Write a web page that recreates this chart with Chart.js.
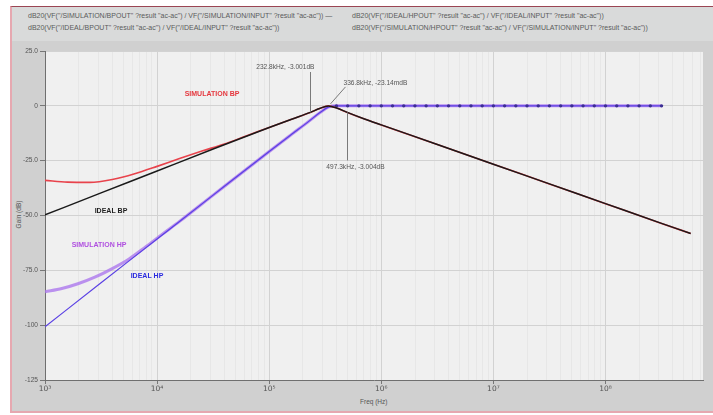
<!DOCTYPE html>
<html>
<head>
<meta charset="utf-8">
<script src="https://cdn.jsdelivr.net/npm/chart.js@4.4.1/dist/chart.umd.min.js"></script>
<style>
  html, body { margin: 0; padding: 0; background: #ffffff; }
  body { width: 713px; height: 415px; position: relative; overflow: hidden; font-family: "Liberation Sans", Arial, sans-serif; }
  #frame { position: absolute; left: 10px; top: 6px; width: 703px; height: 407px; box-sizing: border-box;
           background: #d0d0d0; border-top: 1px solid #9b4553; border-left: 2px solid #e6a8b0; border-bottom: 2px solid #e6a8b0; }
  #legendBand { position: absolute; left: 12px; top: 7px; width: 701px; height: 34px; background: #d9dada; }
  .leg { position: absolute; font-size: 7px; color: #5a5a5a; white-space: nowrap; }
  .axt { position: absolute; font-size: 6.5px; color: #555; white-space: nowrap; }
  #wrap { position: absolute; left: 0; top: 0; width: 713px; height: 415px; }
</style>
</head>
<body>
<div id="frame"></div>
<div id="legendBand"></div>
<div class="leg" style="left:28px;top:12px">dB20(VF("/SIMULATION/BPOUT" ?result "ac-ac") / VF("/SIMULATION/INPUT" ?result "ac-ac")) &#8212;</div>
<div class="leg" style="left:28px;top:24px">dB20(VF("/IDEAL/BPOUT" ?result "ac-ac") / VF("/IDEAL/INPUT" ?result "ac-ac"))</div>
<div class="leg" style="left:352px;top:12px">dB20(VF("/IDEAL/HPOUT" ?result "ac-ac") / VF("/IDEAL/INPUT" ?result "ac-ac"))</div>
<div class="leg" style="left:352px;top:24px">dB20(VF("/SIMULATION/HPOUT" ?result "ac-ac") / VF("/SIMULATION/INPUT" ?result "ac-ac"))</div>
<div class="axt" style="left:-2px;top:211px;transform:rotate(-90deg);transform-origin:50% 50%;width:40px;text-align:center">Gain (dB)</div>
<div class="axt" style="left:360px;top:398px">Freq (Hz)</div>
<div id="wrap"><canvas id="c" width="713" height="415"></canvas></div>
<script>
// Ideal band-pass response
const freqIdealBP = [1e3, 3.162e3, 1e4, 3.162e4, 1e5, 1.585e5, 2.328e5, 2.818e5, 3.368e5, 4.0e5, 4.973e5, 7.079e5, 1e6, 3.162e6, 1e7, 3.162e7, 1e8, 3.162e8, 5.754e8];
const gainIdealBP = [-49.7, -39.7, -29.7, -19.7, -9.9, -6.1, -3.001, -1.2, -0.02314, -1.0, -3.004, -6.0, -8.7, -17.6, -26.6, -35.6, -44.6, -53.6, -58.2];

// Simulated band-pass response
const freqSimBP = [1e3, 1.585e3, 2.512e3, 3.981e3, 6.310e3, 1e4, 1.585e4, 2.512e4, 3.981e4, 6.310e4, 1e5, 1.585e5, 2.328e5, 2.818e5, 3.368e5, 4.0e5, 4.973e5, 7.079e5, 1e6, 3.162e6, 1e7, 3.162e7, 1e8, 3.162e8, 5.754e8];
const gainSimBP = [-34.0, -34.8, -34.9, -33.6, -31.0, -27.6, -24.0, -20.6, -17.4, -13.6, -9.9, -6.1, -3.0, -1.2, -0.03, -1.0, -3.0, -6.0, -8.7, -17.6, -26.6, -35.6, -44.6, -53.6, -58.2];

// Ideal high-pass response
const freqIdealHP = [1e3, 3.162e3, 1e4, 3.162e4, 1e5, 1.585e5, 2.239e5, 2.818e5, 3.368e5, 3.981e5,
  5.012e5, 6.310e5, 7.943e5, 1e6, 1.259e6, 1.585e6, 1.995e6, 2.512e6, 3.162e6, 3.981e6,
  5.012e6, 6.310e6, 7.943e6, 1e7, 1.259e7, 1.585e7, 1.995e7, 2.512e7, 3.162e7, 3.981e7,
  5.012e7, 6.310e7, 7.943e7, 1e8, 1.259e8, 1.585e8, 1.995e8, 2.512e8, 3.162e8];
const gainIdealHP = [-100.7, -80.7, -60.7, -40.7, -20.8, -13.0, -7.2, -3.2, -0.6, 0,
  0, 0, 0, 0, 0, 0, 0, 0, 0, 0,
  0, 0, 0, 0, 0, 0, 0, 0, 0, 0,
  0, 0, 0, 0, 0, 0, 0, 0, 0];

// Simulated high-pass response
const freqSimHP = [1e3, 1.413e3, 1.995e3, 2.818e3, 3.981e3, 5.623e3, 7.943e3, 1.122e4, 1.585e4, 3.162e4, 1e5, 1.585e5, 2.239e5, 2.818e5, 3.368e5, 3.981e5, 1e6, 1e7, 1e8, 3.162e8];
const gainSimHP = [-84.8, -83.3, -81.0, -78.0, -74.2, -69.8, -64.2, -58.4, -52.7, -40.7, -20.8, -13.0, -7.2, -3.2, -0.6, 0, 0, 0, 0, 0];

// Cursor read-outs on the ideal band-pass curve
const markerFreq = [2.328e5, 3.368e5, 4.973e5];
const markerGain = [-3.001, -0.02314, -3.004];
const markerText = ['232.8kHz, -3.001dB', '336.8kHz, -23.14mdB', '497.3kHz, -3.004dB'];

// Axis ticks
const yTicks = [25, 0, -25, -50, -75, -100, -125];
const yTickLabels = ['25.0', '0', '-25.0', '-50.0', '-75.0', '-100', '-125'];
const xDecades = [1e3, 1e4, 1e5, 1e6, 1e7, 1e8];
const xDecadeLabels = ['10\u00B3', '10\u2074', '10\u2075', '10\u2076', '10\u2077', '10\u2078'];

function toPoints(f, g) { return f.map((v, i) => ({ x: v, y: g[i] })); }

const plotBackground = {
  id: 'plotBackground',
  beforeDraw(chart) {
    const { ctx, chartArea: a } = chart;
    ctx.save();
    ctx.fillStyle = '#f0f0f0';
    ctx.fillRect(a.left, a.top, a.right - a.left, a.bottom - a.top);
    ctx.restore();
  }
};

const cursorLabels = {
  id: 'cursorLabels',
  afterDatasetsDraw(chart) {
    const ctx = chart.ctx, xs = chart.scales.x, ys = chart.scales.y;
    ctx.save();
    ctx.strokeStyle = '#7a7a7a';
    ctx.lineWidth = 1;
    ctx.fillStyle = '#555';
    ctx.font = '6.6px "Liberation Sans", Arial, sans-serif';
    ctx.textBaseline = 'middle';
    markerFreq.forEach((f, i) => {
      const px = Math.round(xs.getPixelForValue(f)) + 0.5;
      const py = ys.getPixelForValue(markerGain[i]);
      ctx.beginPath();
      if (i === 0) {
        ctx.moveTo(px, py); ctx.lineTo(px, 72);
        ctx.stroke();
        ctx.textAlign = 'right';
        ctx.fillText(markerText[i], px + 4, 67);
      } else if (i === 1) {
        ctx.moveTo(px + 2, py - 2); ctx.lineTo(px + 17, py - 19);
        ctx.stroke();
        ctx.textAlign = 'left';
        ctx.fillText(markerText[i], px + 15, py - 23);
      } else {
        ctx.moveTo(px, py); ctx.lineTo(px, py + 48);
        ctx.stroke();
        ctx.textAlign = 'center';
        ctx.fillText(markerText[i], px + 8, py + 55);
      }
    });
    ctx.restore();
  }
};

const curveNames = {
  id: 'curveNames',
  afterDatasetsDraw(chart) {
    const ctx = chart.ctx;
    ctx.save();
    ctx.font = 'bold 7px "Liberation Sans", Arial, sans-serif';
    ctx.textAlign = 'center';
    ctx.textBaseline = 'middle';
    const names = [
      ['SIMULATION BP', '#e5383f', 212, 94],
      ['IDEAL BP', '#1e1e1e', 111, 211],
      ['SIMULATION HP', '#b050e0', 99, 245],
      ['IDEAL HP', '#2b2be0', 147, 276]
    ];
    names.forEach(([t, c, x, y]) => { ctx.fillStyle = c; ctx.fillText(t, x, y); });
    ctx.restore();
  }
};

const ctx = document.getElementById('c').getContext('2d');
new Chart(ctx, {
  type: 'line',
  data: {
    datasets: [
      { label: 'IDEAL BP', data: toPoints(freqIdealBP, gainIdealBP), borderColor: '#1a1a1a', borderWidth: 1.5, pointRadius: 0, order: 1 },
      { label: 'SIMULATION BP', data: toPoints(freqSimBP, gainSimBP), borderColor: '#e8434c', borderWidth: 1.6, pointRadius: 0, order: 2 },
      { label: 'IDEAL HP', data: toPoints(freqIdealHP, gainIdealHP), borderColor: '#5a40e4', borderWidth: 1.2,
        pointRadius: c => (c.raw && c.raw.y === 0 ? 1.7 : 0), pointBackgroundColor: '#3b2e92', pointBorderWidth: 0, order: 3 },
      { label: 'SIMULATION HP', data: toPoints(freqSimHP, gainSimHP), borderColor: 'rgba(172,120,238,0.8)', borderWidth: 3, pointRadius: 0, order: 4 }
    ]
  },
  options: {
    responsive: false,
    animation: false,
    devicePixelRatio: 1,
    layout: { padding: { top: 51, right: 10, left: 0, bottom: 0 } },
    plugins: { legend: { display: false }, tooltip: { enabled: false } },
    elements: { line: { tension: 0.3, cubicInterpolationMode: 'monotone' } },
    scales: {
      x: {
        type: 'logarithmic',
        min: 1e3,
        max: 7.41e8,
        afterFit(s) { s.height = 35; },
        afterBuildTicks(s) {
          const t = [];
          xDecades.forEach(d => {
            for (let m = 1; m <= 9; m++) {
              const v = d * m;
              if (v <= 7.41e8) t.push({ value: v, major: m === 1 });
            }
          });
          s.ticks = t;
        },
        ticks: {
          autoSkip: false, maxRotation: 0, padding: 1,
          color: '#555', font: { size: 7.5, family: '"DejaVu Sans", sans-serif' },
          callback(v) { const i = xDecades.indexOf(v); return i >= 0 ? xDecadeLabels[i] : ''; }
        },
        grid: {
          color: c => (c.tick && c.tick.major ? '#d2d2d2' : '#e7e7e7'),
          tickColor: c => (c.tick && c.tick.major ? '#777' : 'rgba(0,0,0,0)'),
          tickLength: 4
        },
        border: { color: '#6f6f6f', width: 1 }
      },
      y: {
        min: -125,
        max: 25,
        afterFit(s) { s.width = 45; },
        afterBuildTicks(s) { s.ticks = yTicks.map(v => ({ value: v })); },
        ticks: {
          padding: 2, color: '#555', font: { size: 6.6, family: '"Liberation Sans", Arial, sans-serif' },
          callback(v) { const i = yTicks.indexOf(v); return i >= 0 ? yTickLabels[i] : ''; }
        },
        grid: { color: '#d2d2d2', tickColor: '#777', tickLength: 5 },
        border: { color: '#6f6f6f', width: 1 }
      }
    }
  },
  plugins: [plotBackground, cursorLabels, curveNames]
});
</script>
</body>
</html>
